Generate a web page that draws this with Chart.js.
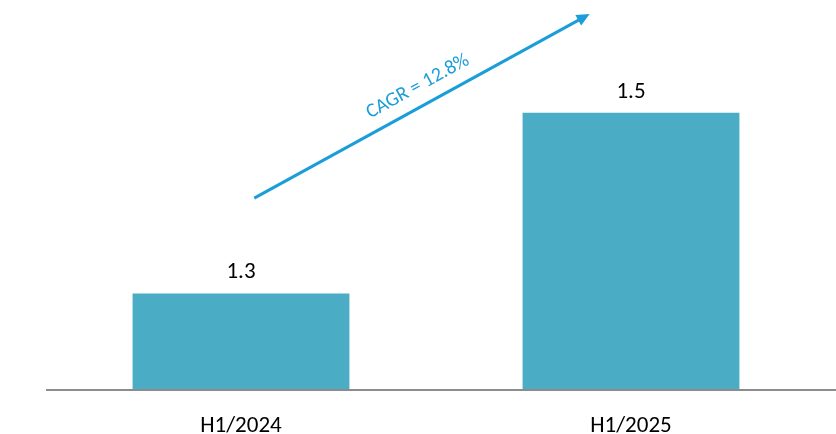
<!DOCTYPE html>
<html>
<head>
<meta charset="utf-8">
<script src="https://cdn.jsdelivr.net/npm/chart.js@4.4.1/dist/chart.umd.min.js"></script>
<style>
  html, body { margin: 0; padding: 0; background: #fff; }
  #wrap { width: 836px; height: 434px; }
</style>
</head>
<body>
<div id="wrap"><canvas id="c"></canvas></div>
<script>
const categories = ['H1/2024', 'H1/2025'];
const values = [1.3, 1.5];
const cagrLabel = 'CAGR = 12.8%';

const FONT = 'Carlito, Calibri, Lato, sans-serif';
const BAR_COLOR = '#4BACC6';
const ARROW_COLOR = '#1A9DD9';

// value labels over the bars
const valueLabels = {
    id: 'valueLabels',
    afterDatasetsDraw(chart) {
        const { ctx } = chart;
        const meta = chart.getDatasetMeta(0);
        ctx.save();
        ctx.fillStyle = '#000';
        ctx.font = '23px ' + FONT;
        ctx.textAlign = 'center';
        ctx.textBaseline = 'alphabetic';
        meta.data.forEach((bar, i) => {
            ctx.fillText(values[i].toFixed(1), bar.x, bar.y - 15);
        });
        ctx.restore();
    }
};

// grey baseline running to the right edge
const baseline = {
    id: 'baseline',
    afterDatasetsDraw(chart) {
        const { ctx, chartArea } = chart;
        ctx.save();
        ctx.strokeStyle = '#8C8C8C';
        ctx.lineWidth = 2;
        ctx.beginPath();
        ctx.moveTo(chartArea.left, chartArea.bottom);
        ctx.lineTo(chart.width, chartArea.bottom);
        ctx.stroke();
        ctx.restore();
    }
};

// CAGR arrow between the bars
const cagrArrow = {
    id: 'cagrArrow',
    afterDraw(chart) {
        const { ctx, chartArea: a } = chart;
        const w = a.right - a.left, h = a.bottom - a.top;
        const x0 = a.left + w * 0.267, y0 = a.top + h * 0.508;
        const x1 = a.left + w * 0.697, y1 = a.top + h * 0.036;
        const ang = Math.atan2(y1 - y0, x1 - x0);
        ctx.save();
        ctx.strokeStyle = ARROW_COLOR;
        ctx.fillStyle = ARROW_COLOR;
        ctx.lineWidth = 3;
        ctx.beginPath();
        ctx.moveTo(x0, y0);
        ctx.lineTo(x1 - 10 * Math.cos(ang), y1 - 10 * Math.sin(ang));
        ctx.stroke();
        ctx.translate(x1, y1);
        ctx.rotate(ang);
        ctx.beginPath();
        ctx.moveTo(0, 0);
        ctx.lineTo(-13, -6);
        ctx.lineTo(-13, 6);
        ctx.closePath();
        ctx.fill();
        ctx.restore();

        // label above the middle of the arrow
        const mx = x0 + (x1 - x0) * 0.515, my = y0 + (y1 - y0) * 0.515;
        const off = 19;
        ctx.save();
        ctx.translate(mx + off * Math.sin(ang), my - off * Math.cos(ang));
        ctx.rotate(ang);
        ctx.fillStyle = ARROW_COLOR;
        ctx.font = '20px ' + FONT;
        ctx.textAlign = 'center';
        ctx.textBaseline = 'middle';
        ctx.fillText(cagrLabel, 0, 0);
        ctx.restore();
    }
};

new Chart(document.getElementById('c'), {
    type: 'bar',
    data: {
        labels: categories,
        datasets: [{
            data: values,
            backgroundColor: BAR_COLOR,
            borderWidth: 0,
            categoryPercentage: 0.556,
            barPercentage: 1
        }]
    },
    options: {
        responsive: true,
        maintainAspectRatio: false,
        animation: false,
        layout: { padding: { left: 46, right: 10, top: 0, bottom: 0 } },
        plugins: {
            legend: { display: false },
            tooltip: { enabled: false }
        },
        scales: {
            x: {
                grid: { display: false, drawTicks: false },
                border: { display: false },
                ticks: {
                    color: '#000',
                    font: { family: FONT, size: 23 },
                    padding: 22
                },
                afterFit(scale) { scale.height = 44; }
            },
            y: {
                display: false,
                min: 1.193,
                max: 1.625
            }
        }
    },
    plugins: [valueLabels, baseline, cagrArrow]
});
</script>
</body>
</html>
